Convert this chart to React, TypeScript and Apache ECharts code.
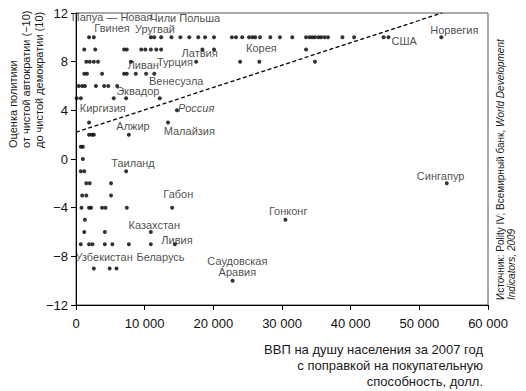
import React, { useEffect, useRef } from 'react';
import * as echarts from 'echarts';

// GDP per capita (PPP, 2007) of countries, grouped by Polity IV score
const scoreRows: Array<[number, number[]]> = [
  [10, [1900, 2600, 10900, 11400, 12400, 13900, 15200, 16500, 17800, 18800, 20100, 22700, 23300, 24200, 25200, 25700, 26100, 26800, 28300, 29700, 31500, 33500, 34000, 34400, 34800, 35300, 35700, 36200, 36700, 38800, 40500, 44800, 45500, 53200]],
  [9, [1200, 2800, 7000, 7400, 9500, 10100, 10900, 11700, 12400, 18400, 20100, 33500]],
  [8, [1500, 2000, 2600, 3200, 8000, 17500, 23900, 26700, 34800]],
  [7, [1200, 1600, 3800, 7000, 7400, 8700, 10200, 11400]],
  [6, [400, 900, 1300, 2900, 4100, 4700, 6000]],
  [5, [100, 700, 5500, 7300, 12200]],
  [4, [14700]],
  [3, [1900, 13400]],
  [2, [1900, 2300, 2600, 7700]],
  [1, [700, 1000]],
  [0, [1000]],
  [-1, [700, 1200, 7300]],
  [-2, [1500, 2000, 5100, 54000]],
  [-3, [900, 1500, 5100]],
  [-4, [800, 1900, 2200, 3800, 4300, 7400, 14000]],
  [-5, [1300, 30500]],
  [-6, [1200, 4200, 10900]],
  [-7, [700, 1900, 2400, 4200, 5300, 7700, 10900, 14400]],
  [-9, [2600, 4900, 5900]],
  [-10, [22800]],
];

// Dashed trend line
const trendGdp = [0, 53300];
const trendScore = [2.2, 12];

// Country labels (anchor in data coordinates)
const labelNames = ['Папуа — Новая\nГвинея', 'Чили Польша', 'Уругвай', 'Латвия', 'Турция', 'Ливан', 'Венесуэла', 'Эквадор', 'Киргизия', 'Россия', 'Алжир', 'Малайзия', 'Таиланд', 'Габон', 'Казахстан', 'Ливия', 'Узбекистан', 'Беларусь', 'Гонконг', 'Саудовская\nАравия', 'Корея', 'США', 'Норвегия', 'Сингапур'];
const labelGdp = [5250, 15900, 11500, 18000, 14400, 9800, 14600, 9000, 3900, 17500, 8300, 16500, 8300, 14900, 11400, 14700, 4100, 12300, 30900, 23500, 27000, 47800, 55100, 53100];
const labelScore = [11.2, 11.55, 10.68, 8.7, 8.0, 7.72, 6.43, 5.59, 4.19, 4.19, 2.71, 2.3, -0.3, -2.88, -5.42, -6.66, -8.03, -8.03, -4.25, -8.83, 9.12, 9.72, 10.6, -1.4];
const italicLabels = ['Россия'];

const xMin = 0, xMax = 60000, xStep = 10000;
const yMin = -12, yMax = 12, yStep = 4;

const yTitleLines = ['Оценка политики', 'от чистой автократии (−10)', 'до чистой демократии (10)'];
const xTitle = 'ВВП на душу населения за 2007 год\nс поправкой на покупательную\nспособность, долл.';

const FONT = '"Liberation Sans", Arial, Helvetica, sans-serif';

function fmtX(v: number) {
  return String(v).replace(/\B(?=(\d{3})+(?!\d))/g, ' ');
}
function fmtY(v: number) {
  return v < 0 ? '−' + Math.abs(v) : String(v);
}

export default function App() {
  const ref = useRef<HTMLDivElement>(null);
  useEffect(() => {
    document.body.style.margin = '0';
    const chart = echarts.init(ref.current!, null, { renderer: 'svg' });
    const points: number[][] = [];
    scoreRows.forEach(([s, xs]) => xs.forEach((x) => points.push([x, s])));
    const labels = labelNames.map((n, i) => ({
      name: n,
      value: [labelGdp[i], labelScore[i]],
      label: { fontStyle: italicLabels.includes(n) ? 'italic' : 'normal' },
    }));
    const option: any = {
      animation: false,
      backgroundColor: '#fff',
      textStyle: { fontFamily: FONT },
      grid: {
        left: 76, top: 13, width: 412, height: 292,
        show: true, borderColor: '#555', borderWidth: 1, backgroundColor: 'transparent',
      },
      xAxis: {
        type: 'value', min: xMin, max: xMax, interval: xStep,
        splitLine: { show: false },
        axisLine: { show: true, onZero: false, lineStyle: { color: '#000', width: 1 } },
        axisTick: { show: true, inside: false, length: 5, lineStyle: { color: '#000' } },
        axisLabel: { formatter: fmtX, color: '#111', fontSize: 13, margin: 12, fontFamily: FONT },
      },
      yAxis: {
        type: 'value', min: yMin, max: yMax, interval: yStep,
        splitLine: { show: false },
        axisLine: { show: true, onZero: false, lineStyle: { color: '#000', width: 1 } },
        axisTick: { show: true, inside: false, length: 5, lineStyle: { color: '#000' } },
        axisLabel: { formatter: fmtY, color: '#111', fontSize: 13, margin: 8, fontFamily: FONT },
      },
      series: [
        {
          type: 'line',
          data: trendGdp.map((x, i) => [x, trendScore[i]]),
          symbol: 'none',
          silent: true,
          lineStyle: { color: '#000', width: 1.3, type: [4, 2.5] },
          z: 3,
        },
        {
          type: 'scatter',
          data: points,
          symbol: 'circle',
          symbolSize: 4,
          itemStyle: { color: '#000' },
          silent: true,
          z: 4,
        },
        {
          type: 'scatter',
          data: labels,
          symbolSize: 0,
          silent: true,
          z: 5,
          label: {
            show: true,
            position: 'inside',
            formatter: '{b}',
            align: 'center',
            verticalAlign: 'middle',
            color: '#1a1a1a',
            fontSize: 11,
            lineHeight: 11,
            fontFamily: FONT,
          },
        },
      ],
      graphic: [
        ...yTitleLines.map((t, i) => ({
          type: 'text',
          x: 13 + i * 13,
          y: 148,
          rotation: Math.PI / 2,
          style: {
            text: t, fill: '#1a1a1a', font: `11px ${FONT}`,
            textAlign: 'left', textVerticalAlign: 'middle',
          },
        })),
        {
          type: 'text',
          x: 483,
          y: 341,
          style: {
            text: xTitle, fill: '#1a1a1a', font: `13px ${FONT}`,
            textAlign: 'right', textVerticalAlign: 'top', lineHeight: 16,
          },
        },
        {
          type: 'text',
          x: 500,
          y: 300,
          rotation: Math.PI / 2,
          style: {
            text: 'Источник: Polity IV; Всемирный банк, {i|World Development}',
            fill: '#1a1a1a', font: `10px ${FONT}`,
            textAlign: 'left', textVerticalAlign: 'middle',
            rich: { i: { fontStyle: 'italic', fontSize: 10, fontFamily: FONT, fill: '#1a1a1a' } },
          },
        },
        {
          type: 'text',
          x: 511,
          y: 300,
          rotation: Math.PI / 2,
          style: {
            text: 'Indicators, 2009',
            fill: '#1a1a1a', font: `italic 10px ${FONT}`,
            textAlign: 'left', textVerticalAlign: 'middle',
          },
        },
      ],
    };
    chart.setOption(option);
    return () => chart.dispose();
  }, []);
  return <div ref={ref} style={{ width: 526, height: 391 }} />;
}
